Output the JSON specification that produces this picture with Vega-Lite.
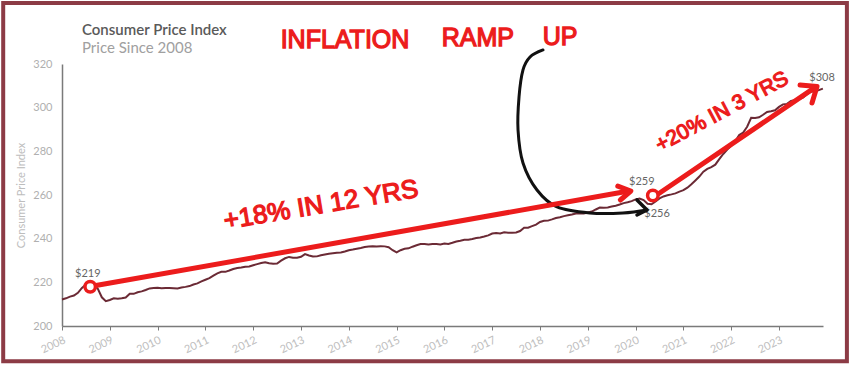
{
  "$schema": "https://vega.github.io/schema/vega-lite/v6.json",
  "width": 761,
  "height": 262,
  "autosize": "none",
  "padding": {"left": 62, "top": 64, "right": 27, "bottom": 40},
  "background": "white",
  "config": {"view": {"stroke": null}},
  "title": {
    "text": "Consumer Price Index",
    "subtitle": "Price Since 2008",
    "anchor": "start",
    "frame": "group",
    "dx": 20,
    "offset": -55,
    "font": "Lato",
    "subtitleFont": "Lato",
    "fontSize": 15,
    "subtitleFontSize": 15,
    "fontWeight": 600,
    "color": "#5a5a5a",
    "subtitleColor": "#a0a0a0",
    "subtitlePadding": 3
  },
  "datasets": {
    "cpi": [
      {"x":2008.000,"y":212.17},{"x":2008.083,"y":212.68},{"x":2008.167,"y":213.45},{"x":2008.250,"y":213.94},{"x":2008.333,"y":215.21},{"x":2008.417,"y":217.46},{"x":2008.500,"y":219.02},{"x":2008.583,"y":218.69},{"x":2008.667,"y":218.88},{"x":2008.750,"y":216.99},{"x":2008.833,"y":213.15},{"x":2008.917,"y":211.40},
      {"x":2009.000,"y":211.93},{"x":2009.083,"y":212.71},{"x":2009.167,"y":212.50},{"x":2009.250,"y":212.71},{"x":2009.333,"y":213.02},{"x":2009.417,"y":214.79},{"x":2009.500,"y":214.73},{"x":2009.583,"y":215.45},{"x":2009.667,"y":215.86},{"x":2009.750,"y":216.51},{"x":2009.833,"y":217.23},{"x":2009.917,"y":217.35},
      {"x":2010.000,"y":217.49},{"x":2010.083,"y":217.28},{"x":2010.167,"y":217.35},{"x":2010.250,"y":217.40},{"x":2010.333,"y":217.29},{"x":2010.417,"y":217.20},{"x":2010.500,"y":217.61},{"x":2010.583,"y":217.92},{"x":2010.667,"y":218.28},{"x":2010.750,"y":219.02},{"x":2010.833,"y":219.54},{"x":2010.917,"y":220.44},
      {"x":2011.000,"y":221.19},{"x":2011.083,"y":221.90},{"x":2011.167,"y":223.05},{"x":2011.250,"y":224.09},{"x":2011.333,"y":224.81},{"x":2011.417,"y":224.81},{"x":2011.500,"y":225.40},{"x":2011.583,"y":226.11},{"x":2011.667,"y":226.60},{"x":2011.750,"y":226.75},{"x":2011.833,"y":227.17},{"x":2011.917,"y":227.22},
      {"x":2012.000,"y":227.84},{"x":2012.083,"y":228.33},{"x":2012.167,"y":228.81},{"x":2012.250,"y":229.19},{"x":2012.333,"y":228.71},{"x":2012.417,"y":228.52},{"x":2012.500,"y":228.59},{"x":2012.583,"y":229.92},{"x":2012.667,"y":231.02},{"x":2012.750,"y":231.64},{"x":2012.833,"y":231.25},{"x":2012.917,"y":231.22},
      {"x":2013.000,"y":231.68},{"x":2013.083,"y":232.94},{"x":2013.167,"y":232.28},{"x":2013.250,"y":231.80},{"x":2013.333,"y":231.89},{"x":2013.417,"y":232.36},{"x":2013.500,"y":232.75},{"x":2013.583,"y":233.13},{"x":2013.667,"y":233.33},{"x":2013.750,"y":233.54},{"x":2013.833,"y":233.67},{"x":2013.917,"y":234.10},
      {"x":2014.000,"y":234.72},{"x":2014.083,"y":235.00},{"x":2014.167,"y":235.35},{"x":2014.250,"y":235.69},{"x":2014.333,"y":236.14},{"x":2014.417,"y":236.36},{"x":2014.500,"y":236.57},{"x":2014.583,"y":236.43},{"x":2014.667,"y":236.58},{"x":2014.750,"y":236.47},{"x":2014.833,"y":236.10},{"x":2014.917,"y":234.72},
      {"x":2015.000,"y":233.71},{"x":2015.083,"y":234.72},{"x":2015.167,"y":235.37},{"x":2015.250,"y":235.56},{"x":2015.333,"y":236.32},{"x":2015.417,"y":237.00},{"x":2015.500,"y":237.51},{"x":2015.583,"y":237.53},{"x":2015.667,"y":237.35},{"x":2015.750,"y":237.55},{"x":2015.833,"y":237.58},{"x":2015.917,"y":237.34},
      {"x":2016.000,"y":237.82},{"x":2016.083,"y":237.56},{"x":2016.167,"y":238.10},{"x":2016.250,"y":238.69},{"x":2016.333,"y":239.06},{"x":2016.417,"y":239.53},{"x":2016.500,"y":239.51},{"x":2016.583,"y":239.83},{"x":2016.667,"y":240.29},{"x":2016.750,"y":240.58},{"x":2016.833,"y":241.01},{"x":2016.917,"y":241.50},
      {"x":2017.000,"y":242.35},{"x":2017.083,"y":242.61},{"x":2017.167,"y":242.40},{"x":2017.250,"y":242.88},{"x":2017.333,"y":242.70},{"x":2017.417,"y":242.74},{"x":2017.500,"y":242.82},{"x":2017.583,"y":243.51},{"x":2017.667,"y":244.96},{"x":2017.750,"y":245.05},{"x":2017.833,"y":245.77},{"x":2017.917,"y":246.45},
      {"x":2018.000,"y":247.64},{"x":2018.083,"y":248.17},{"x":2018.167,"y":248.26},{"x":2018.250,"y":248.82},{"x":2018.333,"y":249.45},{"x":2018.417,"y":249.84},{"x":2018.500,"y":250.33},{"x":2018.583,"y":250.69},{"x":2018.667,"y":251.08},{"x":2018.750,"y":251.51},{"x":2018.833,"y":251.48},{"x":2018.917,"y":251.52},
      {"x":2019.000,"y":251.97},{"x":2019.083,"y":252.41},{"x":2019.167,"y":253.37},{"x":2019.250,"y":254.25},{"x":2019.333,"y":254.15},{"x":2019.417,"y":254.30},{"x":2019.500,"y":254.76},{"x":2019.583,"y":255.12},{"x":2019.667,"y":255.62},{"x":2019.750,"y":256.29},{"x":2019.833,"y":256.67},{"x":2019.917,"y":257.20},
      {"x":2020.000,"y":257.97},{"x":2020.083,"y":258.41},{"x":2020.167,"y":257.65},{"x":2020.250,"y":255.96},{"x":2020.333,"y":255.77},{"x":2020.417,"y":257.02},{"x":2020.500,"y":258.46},{"x":2020.583,"y":259.34},{"x":2020.667,"y":259.86},{"x":2020.750,"y":260.28},{"x":2020.833,"y":260.75},{"x":2020.917,"y":261.56},
      {"x":2021.000,"y":262.20},{"x":2021.083,"y":263.35},{"x":2021.167,"y":264.91},{"x":2021.250,"y":266.67},{"x":2021.333,"y":268.45},{"x":2021.417,"y":270.66},{"x":2021.500,"y":271.99},{"x":2021.583,"y":272.79},{"x":2021.667,"y":273.89},{"x":2021.750,"y":276.43},{"x":2021.833,"y":278.80},{"x":2021.917,"y":280.81},
      {"x":2022.000,"y":282.54},{"x":2022.083,"y":284.61},{"x":2022.167,"y":287.47},{"x":2022.250,"y":288.58},{"x":2022.333,"y":291.27},{"x":2022.417,"y":295.33},{"x":2022.500,"y":295.27},{"x":2022.583,"y":295.62},{"x":2022.667,"y":296.76},{"x":2022.750,"y":298.06},{"x":2022.833,"y":298.35},{"x":2022.917,"y":298.81},
      {"x":2023.000,"y":300.36},{"x":2023.083,"y":301.51},{"x":2023.167,"y":301.74},{"x":2023.250,"y":303.03},{"x":2023.333,"y":303.37},{"x":2023.417,"y":304.00},{"x":2023.500,"y":304.63},{"x":2023.583,"y":306.19},{"x":2023.667,"y":307.29},{"x":2023.750,"y":307.53},{"x":2023.833,"y":308.02},{"x":2023.917,"y":308.74}
    ],
    "frame": [{"x": 2006.77, "x2": 2024.42, "y": 183.9, "y2": 347.9}],
    "labels": [
      {"x": 2008.54, "y": 223.8, "t": "$219"},
      {"x": 2020.13, "y": 266.0, "t": "$259"},
      {"x": 2020.45, "y": 251.3, "t": "$256"},
      {"x": 2023.90, "y": 313.6, "t": "$308"}
    ],
    "redArrows": [
      {"seg": "a1", "o": 1, "x": 2008.65, "y": 218.3},
      {"seg": "a1", "o": 2, "x": 2019.86, "y": 261.8},
      {"seg": "h1", "o": 1, "x": 2019.627, "y": 264.04},
      {"seg": "h1", "o": 2, "x": 2019.90, "y": 261.84},
      {"seg": "h1", "o": 3, "x": 2019.68, "y": 257.72},
      {"seg": "a2", "o": 1, "x": 2020.41, "y": 259.55},
      {"seg": "a2", "o": 2, "x": 2023.77, "y": 309.5},
      {"seg": "h2", "o": 1, "x": 2023.44, "y": 310.4},
      {"seg": "h2", "o": 2, "x": 2023.795, "y": 309.7},
      {"seg": "h2", "o": 3, "x": 2023.69, "y": 302.15}
    ],
    "redCircles": [
      {"x": 2008.59, "y": 218.0},
      {"x": 2020.36, "y": 259.8}
    ],
    "blackCurve": [
      {"o": 1, "x": 2018.063, "y": 326.43},
      {"o": 2, "x": 2017.791, "y": 323.23},
      {"o": 3, "x": 2017.644, "y": 317.27},
      {"o": 4, "x": 2017.561, "y": 304.90},
      {"o": 5, "x": 2017.540, "y": 289.78},
      {"o": 6, "x": 2017.644, "y": 274.67},
      {"o": 7, "x": 2017.937, "y": 262.30},
      {"o": 8, "x": 2018.356, "y": 254.51},
      {"o": 9, "x": 2019.046, "y": 251.76},
      {"o": 10, "x": 2019.736, "y": 251.76},
      {"o": 11, "x": 2020.238, "y": 253.14}
    ],
    "blackHead": [
      {"o": 1, "x": 2020.029, "y": 257.72},
      {"o": 2, "x": 2020.238, "y": 253.14},
      {"o": 3, "x": 2020.029, "y": 250.85}
    ],
    "headline": [
      {"x": 2013.92, "y": 331.0, "t": "INFLATION"},
      {"x": 2016.70, "y": 331.9, "t": "RAMP"},
      {"x": 2018.42, "y": 332.4, "t": "UP"}
    ],
    "note1": [{"x": 2013.42, "y": 255.4, "t": "+18% IN 12 YRS"}],
    "note2": [{"x": 2021.81, "y": 298.0, "t": "+20% IN 3 YRS"}]
  },
  "encoding": {
    "x": {
      "field": "x", "type": "quantitative",
      "scale": {"domain": [2008, 2023.92], "nice": false, "zero": false},
      "axis": {
        "title": null,
        "values": [2008,2009,2010,2011,2012,2013,2014,2015,2016,2017,2018,2019,2020,2021,2022,2023],
        "format": "d",
        "grid": false,
        "labelAngle": -25,
        "labelAlign": "right",
        "labelBaseline": "top",
        "labelFont": "Lato",
        "labelFontSize": 11,
        "labelColor": "#bdbdbd",
        "labelPadding": 4,
        "domainColor": "#7a7a7a",
        "domainWidth": 1.5,
        "tickColor": "#7a7a7a",
        "tickSize": 4,
        "labelFlush": false,
        "labelOverlap": false
      }
    },
    "y": {
      "field": "y", "type": "quantitative",
      "scale": {"domain": [200, 320], "nice": false, "zero": false},
      "axis": {
        "title": "Consumer Price Index",
        "values": [200, 220, 240, 260, 280, 300, 320],
        "grid": false,
        "ticks": false,
        "labelPadding": 10,
        "labelFont": "Lato",
        "labelFontSize": 11,
        "labelColor": "#b0b0b0",
        "domainColor": "#7a7a7a",
        "domainWidth": 1.5,
        "titleFont": "Lato",
        "titleFontSize": 11,
        "titleFontWeight": "normal",
        "titleColor": "#bdbdbd",
        "titlePadding": 6
      }
    }
  },
  "layer": [
    {
      "data": {"name": "frame"},
      "mark": {"type": "rect", "fill": null, "fillOpacity": 0, "stroke": "#8c3b45", "strokeWidth": 4},
      "encoding": {"x2": {"field": "x2"}, "y2": {"field": "y2"}}
    },
    {
      "data": {"name": "cpi"},
      "mark": {"type": "line", "color": "#6b2a35", "strokeWidth": 2}
    },
    {
      "data": {"name": "labels"},
      "mark": {"type": "text", "font": "Lato", "fontSize": 11, "color": "#666666"},
      "encoding": {"text": {"field": "t"}}
    },
    {
      "data": {"name": "blackCurve"},
      "mark": {"type": "line", "color": "#111111", "strokeWidth": 3, "interpolate": "cardinal", "strokeCap": "round"},
      "encoding": {"order": {"field": "o"}}
    },
    {
      "data": {"name": "blackHead"},
      "mark": {"type": "line", "color": "#111111", "strokeWidth": 3.5, "strokeCap": "round", "strokeJoin": "round"},
      "encoding": {"order": {"field": "o"}}
    },
    {
      "data": {"name": "redArrows"},
      "mark": {"type": "line", "color": "#ec1c1c", "strokeWidth": 5, "strokeCap": "round", "strokeJoin": "round"},
      "encoding": {"detail": {"field": "seg"}, "order": {"field": "o"}}
    },
    {
      "data": {"name": "redCircles"},
      "mark": {"type": "point", "shape": "circle", "filled": false, "stroke": "#ec1c1c", "strokeWidth": 3.5, "size": 110, "fill": "white", "fillOpacity": 1}
    },
    {
      "data": {"name": "headline"},
      "mark": {"type": "text", "font": "Liberation Sans", "fontSize": 25, "color": "#ec1c1c", "stroke": "#ec1c1c", "strokeWidth": 1.3},
      "encoding": {"text": {"field": "t"}}
    },
    {
      "data": {"name": "note1"},
      "mark": {"type": "text", "font": "Liberation Sans", "fontSize": 26, "angle": -9.5, "color": "#ec1c1c", "stroke": "#ec1c1c", "strokeWidth": 1.3},
      "encoding": {"text": {"field": "t"}}
    },
    {
      "data": {"name": "note2"},
      "mark": {"type": "text", "font": "Liberation Sans", "fontSize": 21, "angle": -28, "color": "#ec1c1c", "stroke": "#ec1c1c", "strokeWidth": 1.2},
      "encoding": {"text": {"field": "t"}}
    }
  ]
}
